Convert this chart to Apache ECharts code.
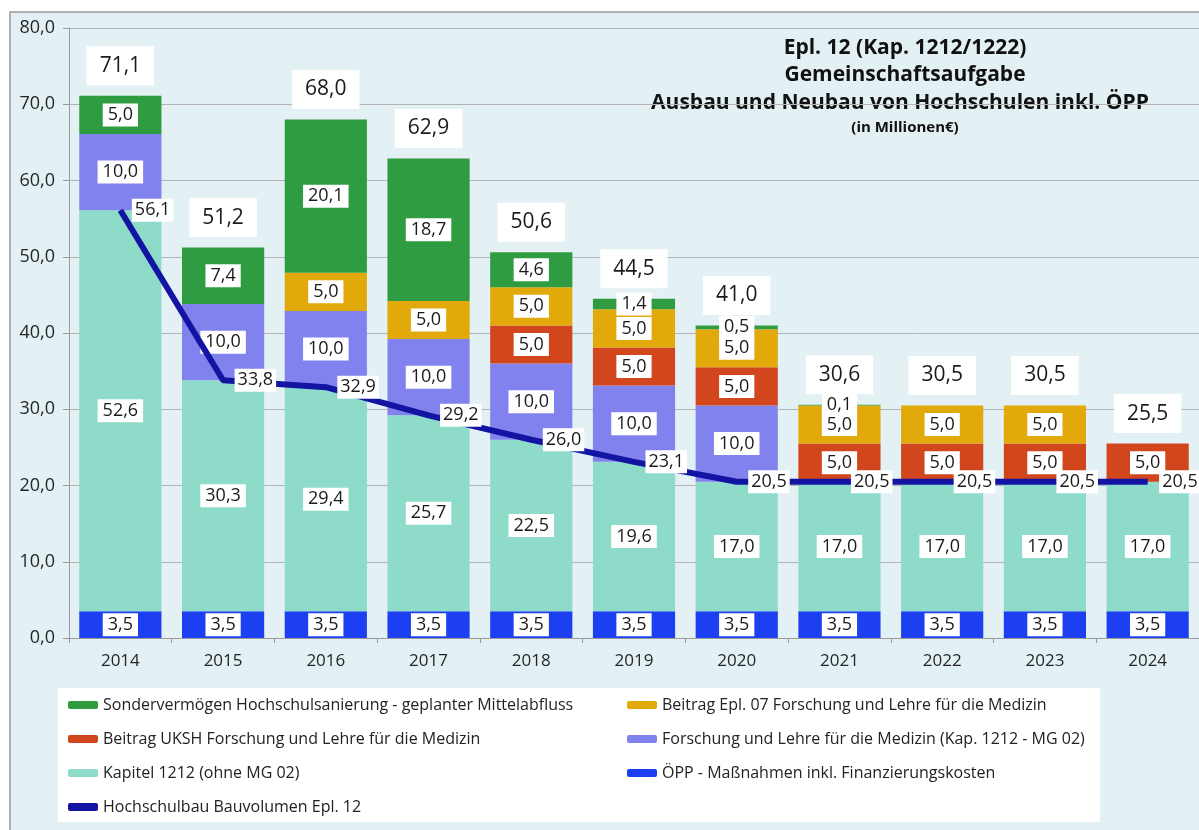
<!DOCTYPE html>
<html>
<head>
<meta charset="utf-8">
<script src="https://cdn.jsdelivr.net/npm/echarts@6/dist/echarts.min.js"></script>
<style>
  html, body { margin: 0; padding: 0; background: #fff; }
  #chart { width: 1199px; height: 830px; }
</style>
</head>
<body>
<div id="chart"></div>
<script>
// data (Mio. €)
const years = ['2014', '2015', '2016', '2017', '2018', '2019', '2020', '2021', '2022', '2023', '2024'];
const oepp = [3.5, 3.5, 3.5, 3.5, 3.5, 3.5, 3.5, 3.5, 3.5, 3.5, 3.5];
const kapitel1212 = [52.6, 30.3, 29.4, 25.7, 22.5, 19.6, 17.0, 17.0, 17.0, 17.0, 17.0];
const forschungMG02 = [10.0, 10.0, 10.0, 10.0, 10.0, 10.0, 10.0, 0, 0, 0, 0];
const beitragUKSH = [0, 0, 0, 0, 5.0, 5.0, 5.0, 5.0, 5.0, 5.0, 5.0];
const beitragEpl07 = [0, 0, 5.0, 5.0, 5.0, 5.0, 5.0, 5.0, 5.0, 5.0, 0];
const sondervermoegen = [5.0, 7.4, 20.1, 18.7, 4.6, 1.4, 0.5, 0.1, 0, 0, 0];
const bauvolumen = [56.1, 33.8, 32.9, 29.2, 26.0, 23.1, 20.5, 20.5, 20.5, 20.5, 20.5];
const yTicks = [0, 10, 20, 30, 40, 50, 60, 70, 80];

const FONT = '"Open Sans", sans-serif';
const fmt = v => Number(v).toFixed(1).replace('.', ',');

const totals = years.map((_, i) =>
  oepp[i] + kapitel1212[i] + forschungMG02[i] + beitragUKSH[i] + beitragEpl07[i] + sondervermoegen[i]);

const segLabel = {
  show: true,
  position: 'inside',
  formatter: p => fmt(p.value),
  backgroundColor: '#fff',
  color: '#1a1a1a',
  fontFamily: FONT,
  fontSize: 18,
  lineHeight: 19,
  padding: [2, 5]
};

function barSeries(name, values, color) {
  return {
    name: name,
    type: 'bar',
    stack: 'total',
    barCategoryGap: '20%',
    data: values.map(v => (v ? v : null)),
    itemStyle: { color: color },
    label: segLabel
  };
}

function titleText(text, y, size, x) {
  return {
    type: 'text', x: x || 905, y: y,
    style: {
      text: text, font: 'bold ' + size + 'px ' + FONT, fill: '#111',
      align: 'center', verticalAlign: 'middle', textAlign: 'center', textVerticalAlign: 'middle'
    }
  };
}

const legendText = { fontFamily: FONT, fontSize: 16, color: '#222' };

const chart = echarts.init(document.getElementById('chart'));
chart.setOption({
  animation: false,
  textStyle: { fontFamily: FONT },
  graphic: [
    {
      type: 'rect', z: -10,
      shape: { x: 10, y: 12, width: 1200, height: 830 },
      style: { fill: '#e3f1f5', stroke: '#9a9a9a', lineWidth: 1.5 }
    },
    {
      type: 'rect', z: -5,
      shape: { x: 58, y: 688, width: 1042, height: 134 },
      style: { fill: '#fff' }
    },
    titleText('Epl. 12 (Kap. 1212/1222)', 48, 21),
    titleText('Gemeinschaftsaufgabe', 75, 21),
    titleText('Ausbau und Neubau von Hochschulen inkl. ÖPP', 103, 21, 900),
    titleText('(in Millionen€)', 128, 15)
  ],
  legend: [
    {
      orient: 'vertical', left: 63, top: 692, itemGap: 18,
      itemWidth: 30, itemHeight: 8,
      textStyle: legendText,
      data: ['Sondervermögen Hochschulsanierung - geplanter Mittelabfluss',
        'Beitrag UKSH Forschung und Lehre für die Medizin',
        'Kapitel 1212 (ohne MG 02)',
        { name: 'Hochschulbau Bauvolumen Epl. 12', icon: 'roundRect' }]
    },
    {
      orient: 'vertical', left: 622, top: 692, itemGap: 18,
      itemWidth: 30, itemHeight: 8,
      textStyle: legendText,
      data: ['Beitrag Epl. 07 Forschung und Lehre für die Medizin',
        'Forschung und Lehre für die Medizin (Kap. 1212 - MG 02)',
        'ÖPP - Maßnahmen inkl. Finanzierungskosten']
    }
  ],
  grid: { left: 69, right: -2, top: 28, bottom: 192 },
  xAxis: {
    type: 'category',
    data: years,
    axisLine: { lineStyle: { color: '#9a9a9a' } },
    axisTick: { show: true, length: 5, lineStyle: { color: '#9a9a9a' } },
    axisLabel: { fontSize: 17, color: '#262626', margin: 15, fontFamily: FONT }
  },
  yAxis: {
    type: 'value',
    min: yTicks[0], max: yTicks[yTicks.length - 1], interval: 10,
    axisLine: { show: true, lineStyle: { color: '#9a9a9a' } },
    axisTick: { show: true, length: 6, lineStyle: { color: '#9a9a9a' } },
    axisLabel: { fontSize: 18, color: '#262626', margin: 14, fontFamily: FONT, formatter: v => fmt(v) },
    splitLine: { lineStyle: { color: '#b3b3b3' } }
  },
  series: [
    barSeries('ÖPP - Maßnahmen inkl. Finanzierungskosten', oepp, '#1c3ff2'),
    barSeries('Kapitel 1212 (ohne MG 02)', kapitel1212, '#8edbca'),
    barSeries('Forschung und Lehre für die Medizin (Kap. 1212 - MG 02)', forschungMG02, '#8282ef'),
    barSeries('Beitrag UKSH Forschung und Lehre für die Medizin', beitragUKSH, '#d1461c'),
    barSeries('Beitrag Epl. 07 Forschung und Lehre für die Medizin', beitragEpl07, '#e2a90a'),
    barSeries('Sondervermögen Hochschulsanierung - geplanter Mittelabfluss', sondervermoegen, '#2f9c41'),
    {
      name: 'Hochschulbau Bauvolumen Epl. 12',
      type: 'line',
      data: bauvolumen,
      z: 5,
      symbol: 'circle',
      symbolSize: 1,
      showSymbol: true,
      itemStyle: { color: '#1414a2' },
      lineStyle: { color: '#1414a2', width: 6 },
      label: {
        show: true,
        position: 'right',
        distance: 11,
        formatter: p => fmt(p.value),
        backgroundColor: '#fff',
        color: '#1a1a1a',
        fontFamily: FONT,
        fontSize: 18,
        lineHeight: 19,
        padding: [2, 3]
      }
    },
    {
      name: 'Summe',
      type: 'scatter',
      data: totals,
      symbolSize: 1,
      itemStyle: { color: 'rgba(0,0,0,0)', opacity: 1 },
      z: 6,
      label: {
        show: true,
        position: 'top',
        distance: 10,
        formatter: p => fmt(p.value),
        backgroundColor: '#fff',
        color: '#1a1a1a',
        fontFamily: FONT,
        fontSize: 21,
        lineHeight: 21,
        padding: [9, 13]
      }
    }
  ]
});
</script>
</body>
</html>
